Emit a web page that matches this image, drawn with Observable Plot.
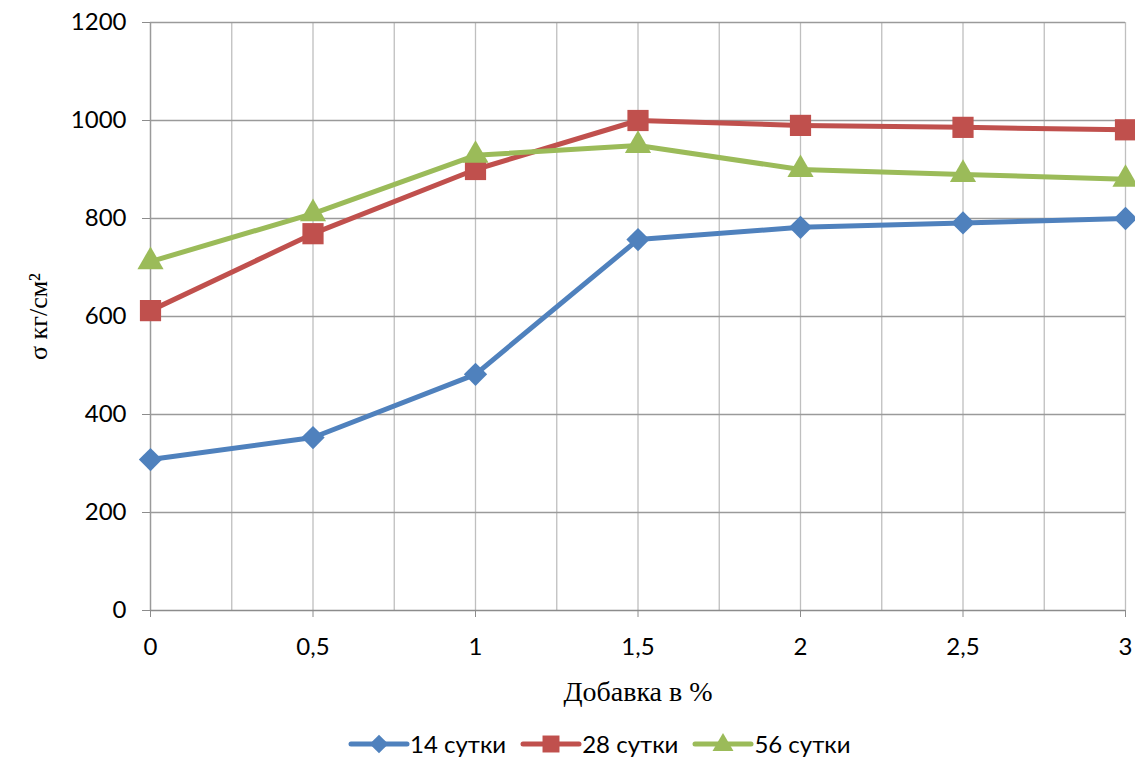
<!DOCTYPE html>
<html>
<head>
<meta charset="utf-8">
<script src="https://cdn.jsdelivr.net/npm/d3@7"></script>
<script src="https://cdn.jsdelivr.net/npm/@observablehq/plot@0.6"></script>
<style>
  body { margin: 0; background: #fff; }
  #wrap { position: relative; width: 1135px; height: 758px; }
  #legend { position: absolute; left: 348px; top: 729px; display: flex; align-items: center; font-family: Lato, "Open Sans", sans-serif; font-size: 24px; color: #000; }
  .item { display: flex; align-items: center; margin-right: 14px; }
  .item svg { display: block; }
</style>
</head>
<body>
<div id="wrap">
  <div id="chart"></div>
  <div id="legend"></div>
</div>
<script>
const additive = [0, 0.5, 1, 1.5, 2, 2.5, 3];
const s14 = [308, 353, 482, 757, 782, 791, 800];
const s28 = [612, 769, 900, 1000, 990, 986, 981];
const s56 = [712, 810, 929, 949, 900, 890, 880];
const seriesNames = ["14 сутки", "28 сутки", "56 сутки"];
const seriesColors = ["#4F81BD", "#C0504D", "#9BBB59"];
const seriesSymbols = ["diamond2", "square2", "triangle2"];
const yTicks = [0, 200, 400, 600, 800, 1000, 1200];
const xTicks = [0, 0.5, 1, 1.5, 2, 2.5, 3];
const xGrid = [0.25, 0.5, 0.75, 1, 1.25, 1.5, 1.75, 2, 2.25, 2.5, 2.75, 3];

const seriesValues = [s14, s28, s56];
const data = [];
seriesNames.forEach((name, i) => {
  additive.forEach((x, j) => data.push({x, y: seriesValues[i][j], series: name}));
});

const fontSans = "Lato, 'Open Sans', sans-serif";
const fontSerif = "'Liberation Serif', 'DejaVu Serif', serif";
const markerR = [10.5, 13.5, 12.5];

const chart = Plot.plot({
  width: 1135,
  height: 710,
  marginLeft: 150,
  marginRight: 10,
  marginTop: 22,
  marginBottom: 100,
  x: {domain: [0, 3]},
  y: {domain: [0, 1200]},
  color: {domain: seriesNames, range: seriesColors},
  symbol: {domain: seriesNames, range: seriesSymbols},
  marks: [
    Plot.ruleX(xGrid, {stroke: "#BFBFBF", strokeWidth: 1.3}),
    Plot.ruleY(yTicks.filter(d => d > 0), {stroke: "#9A9A9A", strokeWidth: 1.3}),
    Plot.ruleX([0], {stroke: "#9A9A9A", strokeWidth: 1.5}),
    Plot.ruleY([0], {stroke: "#8C8C8C", strokeWidth: 1.5}),
    Plot.axisY({ticks: yTicks, tickSize: 8, tickPadding: 16, stroke: "#8C8C8C", fontSize: 24, fontFamily: fontSans, tickFormat: d => String(d), label: null, color: "#000"}),
    Plot.axisY({ticks: [], label: "σ кг/см²", labelAnchor: "center", labelArrow: "none", labelOffset: 122, fontSize: 26, fontFamily: fontSerif}),
    Plot.axisX({ticks: xTicks, tickSize: 7, tickPadding: 20, stroke: "#8C8C8C", fontSize: 24, fontFamily: fontSans, tickFormat: d => String(d).replace(".", ","), label: null}),
    Plot.axisX({ticks: [], label: "Добавка в %", labelAnchor: "center", labelArrow: "none", labelOffset: 90, fontSize: 28, fontFamily: fontSerif}),
    Plot.line(data, {x: "x", y: "y", z: "series", stroke: "series", strokeWidth: 5, strokeLinejoin: "round"}),
    ...seriesNames.map((name, i) =>
      Plot.dot(data.filter(d => d.series === name), {x: "x", y: "y", symbol: "series", fill: "series", r: markerR[i], stroke: "none"}))
  ]
});
document.getElementById("chart").appendChild(chart);

// Legend
const legend = d3.select("#legend");
const legendSymbols = [d3.symbolDiamond2, d3.symbolSquare2, d3.symbolTriangle2];
seriesNames.forEach((name, i) => {
  const item = legend.append("div").attr("class", "item");
  const svg = item.append("svg").attr("width", 62).attr("height", 28);
  svg.append("line").attr("x1", 3).attr("x2", 59).attr("y1", 14).attr("y2", 14)
    .attr("stroke", seriesColors[i]).attr("stroke-width", 5).attr("stroke-linecap", "round");
  const r = markerR[i] * 0.8;
  svg.append("path").attr("transform", `translate(31,${i === 2 ? 15 : 14})`)
    .attr("d", d3.symbol(legendSymbols[i], Math.PI * r * r)())
    .attr("fill", seriesColors[i]);
  item.append("span").text(name);
});
</script>
</body>
</html>
